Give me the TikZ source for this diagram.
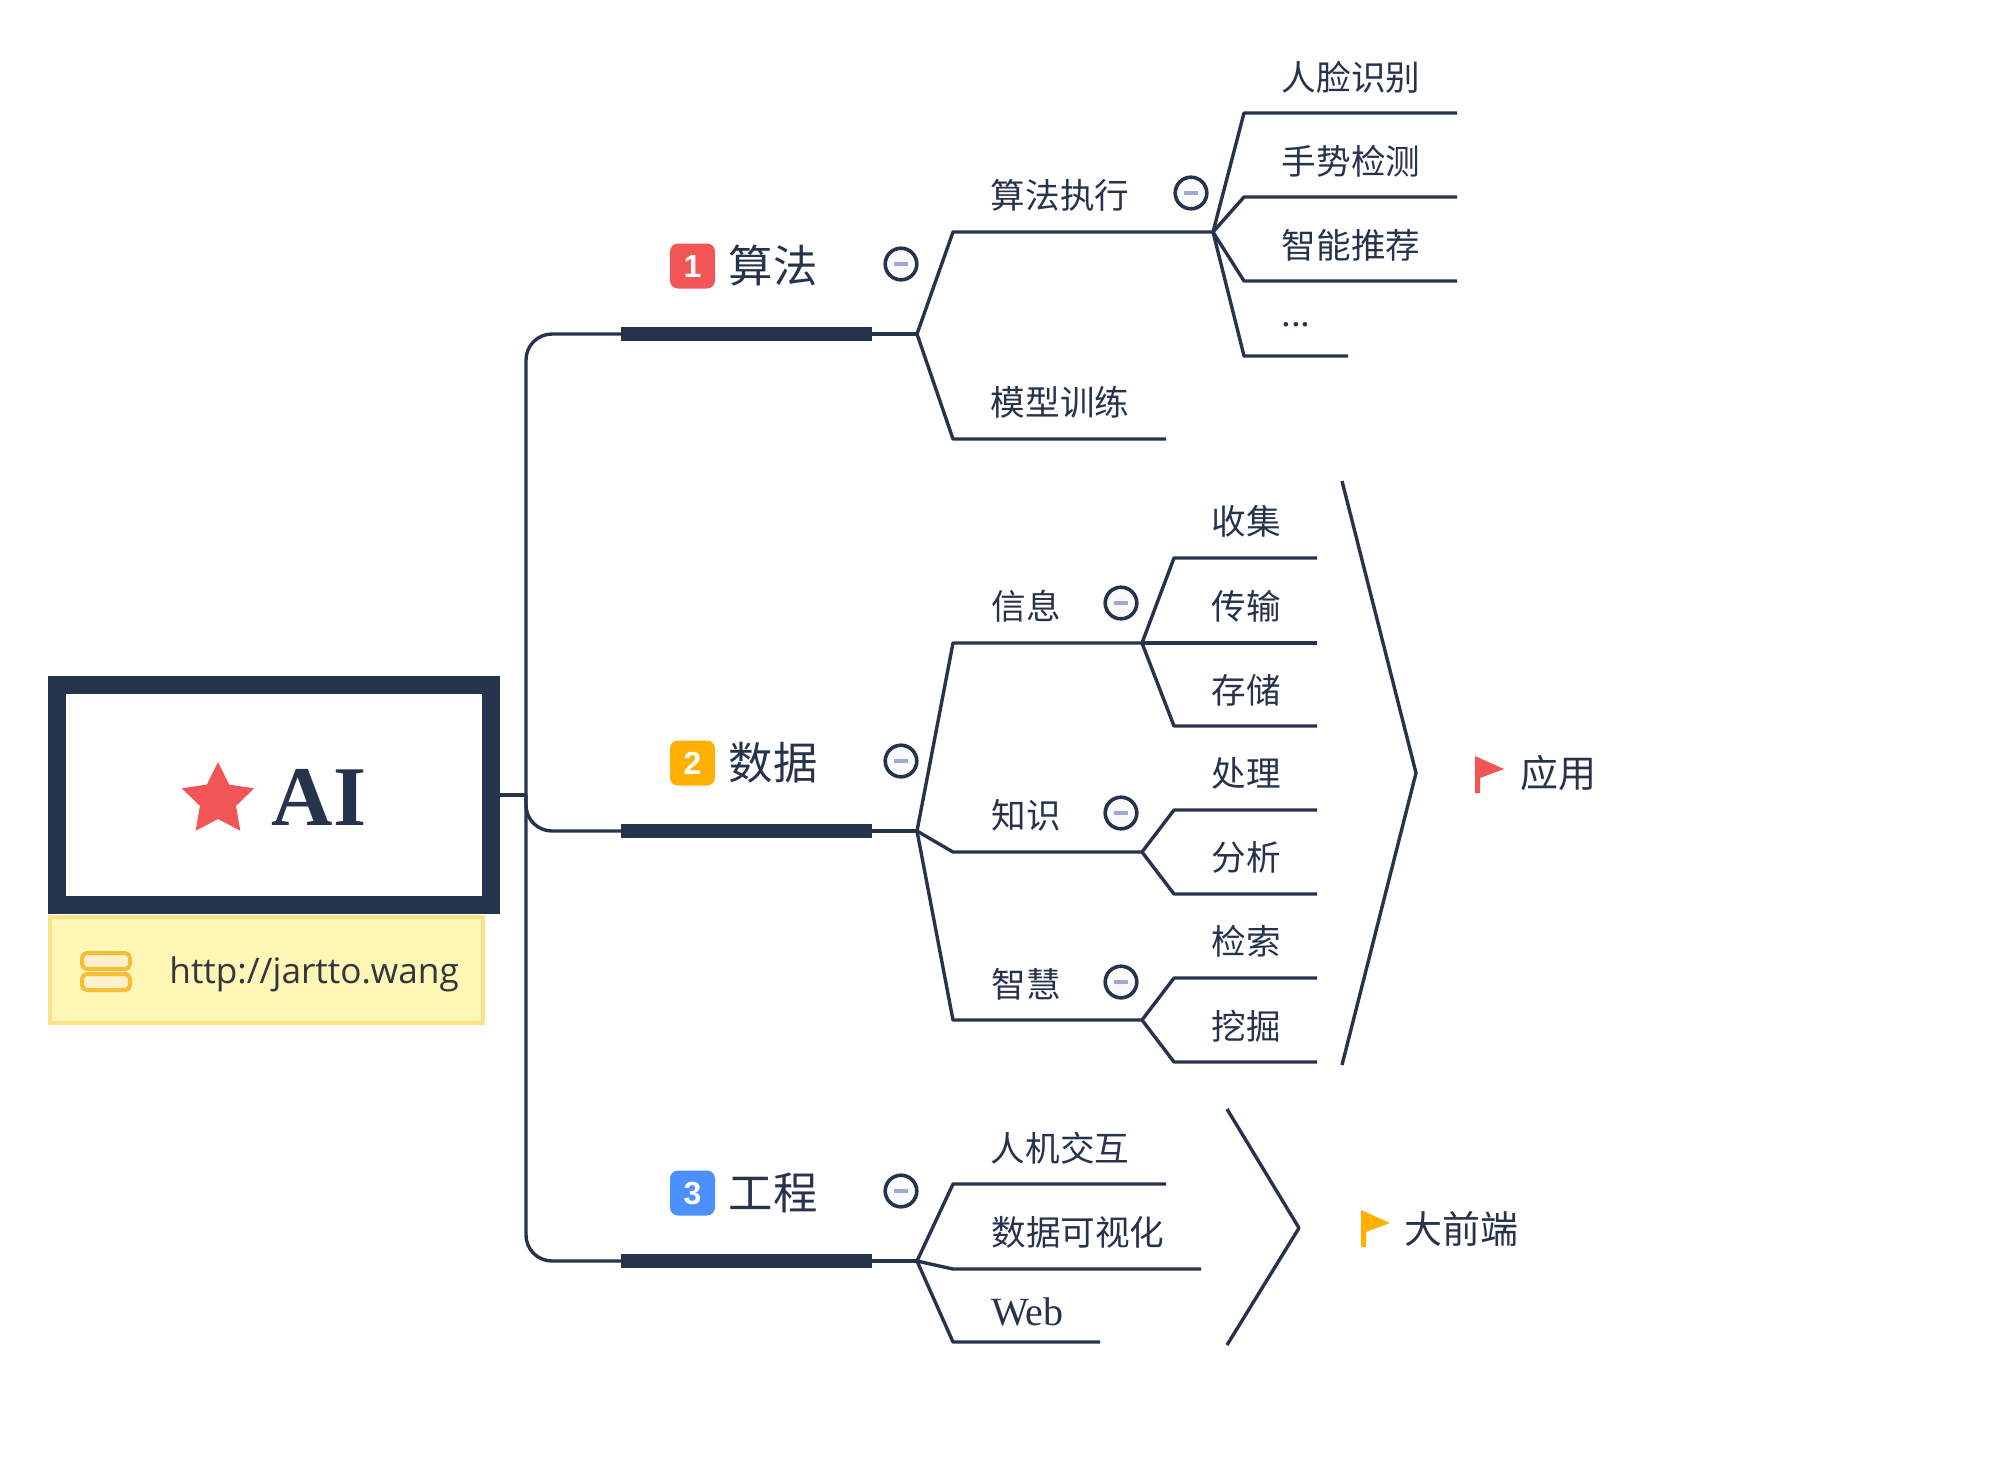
\documentclass[tikz,border=0pt]{standalone}
\usepackage{fontspec}
\setmainfont{Liberation Serif}
\newfontfamily\cjk{Noto Sans CJK SC}
\newfontfamily\urlfont{Open Sans}
\newfontfamily\numfont{Liberation Sans}
\usetikzlibrary{shapes.geometric}
\definecolor{ink}{HTML}{26334D}
\definecolor{urlink}{HTML}{33363F}
\definecolor{tomato}{HTML}{F25555}
\definecolor{amber}{HTML}{FFB000}
\definecolor{sky}{HTML}{4C8FFF}
\definecolor{notefill}{HTML}{FDF6B5}
\definecolor{noteline}{HTML}{FBE286}
\definecolor{iconfill}{HTML}{FFF0CC}
\definecolor{iconline}{HTML}{F6BD35}
\definecolor{minusfill}{HTML}{FAFAFB}
\definecolor{minusbar}{HTML}{9FA8D5}
\tikzset{
  thinline/.style={ink,line width=1.7pt,line join=round},
  topic/.style={text=ink,inner sep=0pt,font=\cjk\fontsize{22.2}{24}\selectfont},
  subtopic/.style={text=ink,inner sep=0pt,font=\cjk\fontsize{17.3}{20}\selectfont},
  remark/.style={text=ink,inner sep=0pt,font=\cjk\fontsize{19}{20}\selectfont},
  badge/.style={rounded corners=4pt,minimum width=22.5pt,minimum height=22.5pt,inner sep=0pt,
    text=white,font=\numfont\bfseries\fontsize{16}{18}\selectfont},
  minusbtn/.style={circle,draw=ink,fill=minusfill,line width=1.8pt,minimum size=15.8pt,inner sep=0pt,
    path picture={\fill[minusbar] ([xshift=-3.5pt,yshift=-1pt]path picture bounding box.center)
      rectangle ([xshift=3.5pt,yshift=1pt]path picture bounding box.center);}},
}
\begin{document}
\begin{tikzpicture}[x=0.5pt,y=-0.5pt]
  \useasboundingbox (0,0) rectangle (1992,1458);
  % root and its note
  \node[draw=ink,fill=white,line width=9pt,minimum width=217pt,minimum height=110pt,inner sep=0pt]
    (root) at (274,795){};
  \node[star,star points=5,star point ratio=2,fill=tomato,inner sep=0pt,minimum size=38pt] (rootstar) at (218,800){};
  \node[text=ink,inner sep=0pt,anchor=base,font=\bfseries\fontsize{42.5}{42}\selectfont] (roottext) at (319,825){AI};
  \node[draw=noteline,fill=notefill,line width=2pt,minimum width=216.5pt,minimum height=53pt,inner sep=0pt]
    (note) at (266.5,970){};
  \node[draw=iconline,fill=iconfill,line width=2pt,rounded corners=2.5pt,minimum width=24pt,minimum height=8pt,inner sep=0pt]
    (icona) at (106,961){};
  \node[draw=iconline,fill=iconfill,line width=2pt,rounded corners=2.5pt,minimum width=24pt,minimum height=8pt,inner sep=0pt]
    (iconb) at (106,982){};
  \node[text=urlink,inner sep=0pt,anchor=base west,font=\urlfont\fontsize{17.6}{20}\selectfont] (noteurl) at (169,983){http://jartto.wang};
  % junctions
  \foreach \n/\x/\y in {trunk/526/795,
      barAl/621/334,barAr/872/334,forkA/917/334,
      barBl/621/831,barBr/872/831,forkB/917/831,
      barCl/621/1261,barCr/872/1261,forkC/917/1261,
      runAa/953/232,runAb/1213/232,runBa/953/439,runBb/1166/439,
      leafAa/1244/113,leafAb/1457/113,leafBa/1244/197,leafBb/1457/197,
      leafCa/1244/281,leafCb/1457/281,leafDa/1244/356,leafDb/1348/356,
      infoa/953/643,infob/1142/643,knowa/953/852,knowb/1142/852,wisea/953/1020,wiseb/1142/1020,
      goa/1174/558,gob/1317/558,gpb/1317/643,gqa/1174/726,gqb/1317/726,
      gra/1174/810,grb/1317/810,gsa/1174/894,gsb/1317/894,
      gta/1174/978,gtb/1317/978,gua/1174/1062,gub/1317/1062,
      feaa/953/1184,feab/1166/1184,feba/953/1269,febb/1201/1269,feca/953/1342,fecb/1100/1342,
      sumAa/1342/481,sumAb/1416/773,sumAc/1342/1065,
      sumBa/1227/1109,sumBb/1299/1228,sumBc/1227/1345}
    {\coordinate (\n) at (\x,\y);}
  % trunk
  \draw[thinline] (root.east)--(trunk);
  \draw[thinline,rounded corners=13pt] (barAl)-|(trunk);
  \draw[thinline,rounded corners=13pt] (barBl)-|(trunk);
  \draw[thinline,rounded corners=13pt] (barCl)-|(trunk);
  \foreach \l/\r/\f in {barAl/barAr/forkA,barBl/barBr/forkB,barCl/barCr/forkC}
    {\draw[ink,line width=7pt](\l)--(\r);
     \draw[thinline](\r)--(\f);}
  % branches
  \foreach \f/\a/\b in {forkA/runAa/runAb,forkA/runBa/runBb,
      runAb/leafAa/leafAb,runAb/leafBa/leafBb,runAb/leafCa/leafCb,runAb/leafDa/leafDb,
      forkB/infoa/infob,forkB/knowa/knowb,forkB/wisea/wiseb,
      infob/goa/gob,infob/gqa/gqb,knowb/gra/grb,knowb/gsa/gsb,wiseb/gta/gtb,wiseb/gua/gub,
      forkC/feaa/feab,forkC/feba/febb,forkC/feca/fecb}
    {\draw[thinline](\f)--(\a)--(\b);}
  \draw[thinline](infob)--(gpb);
  \draw[thinline](sumAa)--(sumAb)--(sumAc);
  \draw[thinline](sumBa)--(sumBb)--(sumBc);
  % topics
  \node[badge,fill=tomato] (badgeA) at (692.5,266){1};
  \node[badge,fill=amber] (badgeB) at (692.5,763){2};
  \node[badge,fill=sky] (badgeC) at (692.5,1193){3};
  \node[topic] (topicA) at (773,266){算法};
  \node[topic] (topicB) at (773,763){数据};
  \node[topic] (topicC) at (773,1193){工程};
  \foreach \n/\x/\y in {minusA/901/264,minusB/901/761,minusC/901/1191,
      minusD/1191/193,minusE/1121/603,minusF/1121/813,minusG/1121/982}
    {\node[minusbtn] (\n) at (\x,\y){};}
  % subtopics
  \foreach \n/\x/\y/\t in {tRun/1060/195/算法执行,tTrain/1060/402/模型训练,
      tFace/1351/77/人脸识别,tHand/1351/161/手势检测,tRec/1351/245/智能推荐,
      tInfo/1026/606/信息,tKnow/1026/815/知识,tWise/1026/984/智慧,
      tCol/1246/521/收集,tSend/1246/606/传输,tStore/1246/690/存储,
      tProc/1246/773/处理,tAna/1246/857/分析,tSearch/1246/941/检索,tMine/1246/1026/挖掘,
      tHci/1060/1148/人机交互,tVis/1078/1232/数据可视化}
    {\node[subtopic] (\n) at (\x,\y){\t};}
  \node[text=ink,inner sep=0pt,anchor=base west,font=\fontsize{19.5}{20}\selectfont] (tDots) at (1281,326){...};
  \node[text=ink,inner sep=0pt,anchor=base west,font=\fontsize{20}{20}\selectfont] (tWeb) at (991,1325){Web};
  % flags and their remarks
  \foreach \x/\y/\c in {1475/756/tomato,1361/1210/amber}
    {\fill[\c](\x,\y)--++(29,13)--++(-24,9)--++(0,15)--++(-5,0)--cycle;}
  \node[remark] (remA) at (1558,773){应用};
  \node[remark] (remB) at (1461,1229){大前端};
\end{tikzpicture}
\end{document}
